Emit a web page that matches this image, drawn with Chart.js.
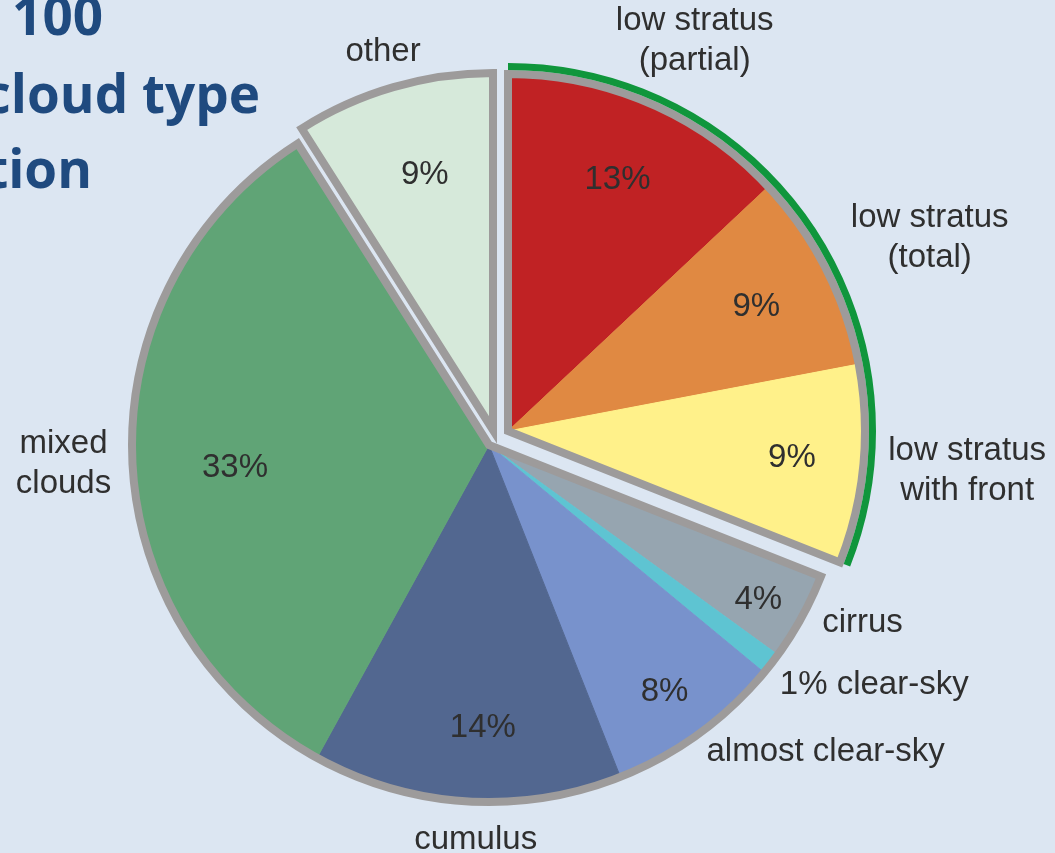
<!DOCTYPE html>
<html>
<head>
<meta charset="utf-8">
<title>Cloud type distribution</title>
<script src="https://cdn.jsdelivr.net/npm/chart.js@4"></script>
<style>
  html, body { margin: 0; padding: 0; background: #dce6f2; }
  #wrap { position: relative; width: 1055px; height: 853px; }
</style>
</head>
<body>
<div id="wrap"><canvas id="cloudPie"></canvas></div>
<script>
// slice names (split over lines as printed next to the pie)
const categories = [
  ['low stratus', '(partial)'],
  ['low stratus', '(total)'],
  ['low stratus', 'with front'],
  ['cirrus'],
  ['clear-sky'],
  ['almost clear-sky'],
  ['cumulus'],
  ['mixed', 'clouds'],
  ['other']
];
const shares = [13, 9, 9, 4, 1, 8, 14, 33, 9];
// which wedge a slice sits in: 0 = low stratus, 1 = main body, 2 = other
const wedgeOf = [0, 0, 0, 1, 1, 1, 1, 1, 2];
const sliceColors = ['#c02224', '#e08942', '#fff18a', '#96a5b0', '#5ec4d2', '#7892cc', '#526790', '#60a476', '#d6e9da'];
const titleLines = ['100', 'cloud type', 'tion'];

// styling
const wedgeShift = [[19, -14], [0, 0], [4, -15]];
const pctNudge = [[1, 0], [5, 0], [12, 1], [30, 23], [0, 0], [15, 26], [11, 10], [19, 14], [8, 7]];
const labelNudge = [[33, -35], [-2, -17], [-5, 3], [-6, -9], [-15, 3], [-10, -6], [11, 9], [9, 7], [-2, -6]];
const insideMin = 2; // thinner slices carry their value in the outer label
const rimGray = '#9d9b9b';
const rimGreen = '#10963c';
const textColor = '#2f2f2f';
const font = '33px "Liberation Sans", Arial, sans-serif';

const wedgePie = {
  id: 'wedgePie',
  beforeDatasetDraw(chart, args) {
    const ctx = chart.ctx;
    const arcs = args.meta.data;
    const wedges = wedgeShift.map((s, w) => {
      const idx = arcs.map((_, i) => i).filter(i => wedgeOf[i] === w);
      const first = arcs[idx[0]], last = arcs[idx[idx.length - 1]];
      return { x: first.x + s[0], y: first.y + s[1], start: first.startAngle, end: last.endAngle, r: first.outerRadius };
    });

    arcs.forEach((arc, i) => {
      const s = wedgeShift[wedgeOf[i]];
      ctx.save();
      ctx.translate(s[0], s[1]);
      arc.draw(ctx);
      ctx.restore();
    });

    ctx.save();
    ctx.lineJoin = 'miter';
    wedges.forEach(w => {
      ctx.beginPath();
      ctx.moveTo(w.x, w.y);
      ctx.arc(w.x, w.y, w.r, w.start, w.end);
      ctx.closePath();
      ctx.lineWidth = 8;
      ctx.strokeStyle = rimGray;
      ctx.stroke();
    });
    // green rim round the low stratus wedge
    const ls = wedges[0];
    ctx.beginPath();
    ctx.arc(ls.x, ls.y, ls.r + 7.5, ls.start, ls.end);
    ctx.lineWidth = 7;
    ctx.strokeStyle = rimGreen;
    ctx.stroke();
    ctx.restore();
    return false;
  },
  afterDatasetsDraw(chart) {
    const ctx = chart.ctx;
    const arcs = chart.getDatasetMeta(0).data;
    ctx.save();
    ctx.font = font;
    ctx.fillStyle = textColor;
    ctx.textBaseline = 'middle';
    arcs.forEach((arc, i) => {
      const s = wedgeShift[wedgeOf[i]];
      const mid = (arc.startAngle + arc.endAngle) / 2;
      const cx = arc.x + s[0], cy = arc.y + s[1];
      const dx = Math.cos(mid), dy = Math.sin(mid);

      if (shares[i] >= insideMin) {
        const r = arc.outerRadius * 0.765;
        ctx.textAlign = 'center';
        ctx.fillText(shares[i] + '%', cx + dx * r + pctNudge[i][0], cy + dy * r + pctNudge[i][1]);
      }

      const lines = categories[i].slice();
      if (shares[i] < insideMin) lines[0] = shares[i] + '% ' + lines[0];
      const rr = arc.outerRadius + 30;
      let ax = cx + dx * rr + labelNudge[i][0];
      const ay = cy + dy * rr + labelNudge[i][1];
      const w = Math.max(...lines.map(l => ctx.measureText(l).width));
      if (dx > 0.45) ax += w / 2;
      else if (dx < -0.45) ax -= w / 2;
      ctx.textAlign = 'center';
      lines.forEach((l, k) => ctx.fillText(l, ax, ay + (k - (lines.length - 1) / 2) * 40));
    });

    // heading, running in from the left edge
    ctx.font = 'bold 53px "Open Sans", sans-serif';
    ctx.fillStyle = '#1f4a7f';
    ctx.textAlign = 'right';
    ctx.textBaseline = 'alphabetic';
    ctx.fillText(titleLines[0], 103, 35);
    ctx.fillText(titleLines[1], 260, 113);
    ctx.fillText(titleLines[2], 92, 188);
    ctx.restore();
  }
};

new Chart(document.getElementById('cloudPie'), {
  type: 'pie',
  data: {
    labels: categories,
    datasets: [{
      data: shares,
      backgroundColor: sliceColors,
      borderColor: sliceColors,
      borderWidth: 1,
      radius: 357
    }]
  },
  options: {
    responsive: true,
    maintainAspectRatio: false,
    devicePixelRatio: 1,
    animation: false,
    events: [],
    layout: { padding: { left: 132, right: 209, top: 88, bottom: 51 } },
    plugins: {
      legend: { display: false },
      tooltip: { enabled: false }
    }
  },
  plugins: [wedgePie]
});
</script>
</body>
</html>
